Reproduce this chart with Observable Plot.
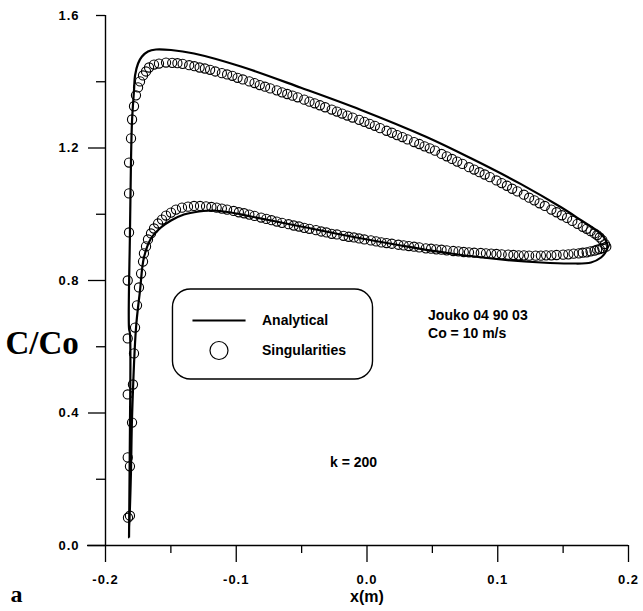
<!DOCTYPE html>
<html>
<head>
<meta charset="utf-8">
<script src="https://cdn.jsdelivr.net/npm/d3@7"></script>
<script src="https://cdn.jsdelivr.net/npm/@observablehq/plot@0.6"></script>
<style>
  html, body { margin: 0; padding: 0; background: #fff; }
  #chart svg { display: block; }
  #chart g[aria-label$="tick label"] text { letter-spacing: 1px; }
</style>
</head>
<body>
<div id="chart"></div>
<script>
// ---- Tick values ----
const xMajorTicks = [-0.2, -0.1, 0.0, 0.1, 0.2];
const xMinorTicks = [-0.15, -0.05, 0.05, 0.15];
const yLabelTicks = [0.0, 0.4, 0.8, 1.2, 1.6];
const yMajorTicks = [0.0, 0.4, 0.8, 1.2];
const yMinorTicks = [0.2, 0.6, 1.0, 1.4, 1.6];

// ---- Analytical solution (closed loop: trailing edge -> upper -> leading edge -> lower -> trailing edge) ----
const analyticX = [
  0.1843, 0.1813, 0.1751, 0.1637, 0.1484, 0.1178, 0.0795, 0.0451, -0.0046, -0.0505,
  -0.0964, -0.1323, -0.1499, -0.1614, -0.1675, -0.1721, -0.1751, -0.1774, -0.1782, -0.1797,
  -0.1805, -0.1813, -0.1820, -0.1813, -0.1813, -0.1820,
  -0.1805, -0.1797, -0.1767, -0.1736, -0.1706, -0.1652, -0.1576, -0.1499, -0.1400, -0.1285,
  -0.1178, -0.1040, -0.0887, -0.0505, -0.0122, 0.0260, 0.0642, 0.1025, 0.1331, 0.1560,
  0.1713, 0.1790, 0.1828, 0.1843
];
const analyticC = [
  0.9026, 0.9300, 0.9520, 0.9820, 1.0210, 1.0910, 1.1690, 1.2340, 1.3150, 1.3820,
  1.4460, 1.4853, 1.4958, 1.4974, 1.4913, 1.4762, 1.4551, 1.4189, 1.3736, 1.2830,
  1.1623, 0.9419, 0.6551, 0.6400, 0.3472, 0.0242,
  0.2264, 0.3864, 0.6551, 0.7698, 0.8694, 0.9268, 0.9600, 0.9811, 0.9992, 1.0083,
  1.0113, 1.0053, 0.9932, 0.9630, 0.9328, 0.9057, 0.8815, 0.8634, 0.8543, 0.8513,
  0.8543, 0.8694, 0.8875, 0.9026
];

// ---- Singularities method: upper surface points ----
const upperX = [
  -0.1828, -0.183, -0.183, -0.183, -0.183, -0.182, -0.182, -0.182, -0.1805, -0.1797,
  -0.1782, -0.1767, -0.1751, -0.1736, -0.1713, -0.169, -0.1667, -0.1629, -0.1591, -0.1537,
  -0.149, -0.145, -0.141, -0.136, -0.132, -0.128, -0.124, -0.120, -0.116, -0.111,
  -0.107, -0.103, -0.099, -0.095, -0.090, -0.086, -0.082, -0.078, -0.074, -0.069,
  -0.065, -0.061, -0.057, -0.053, -0.048, -0.044, -0.040, -0.036, -0.032, -0.027,
  -0.023, -0.019, -0.015, -0.011, -0.006, -0.002, 0.002, 0.006, 0.010, 0.015,
  0.019, 0.023, 0.027, 0.031, 0.036, 0.040, 0.044, 0.048, 0.052, 0.057,
  0.061, 0.065, 0.069, 0.073, 0.078, 0.082, 0.086, 0.090, 0.094, 0.099,
  0.103, 0.107, 0.111, 0.115, 0.120, 0.124, 0.128, 0.132, 0.136, 0.141,
  0.145, 0.149, 0.153, 0.157, 0.161, 0.165, 0.168, 0.171, 0.174, 0.176,
  0.178, 0.180, 0.182
];
const upperC = [
  0.084, 0.266, 0.456, 0.625, 0.800, 0.945, 1.063, 1.156, 1.229, 1.286,
  1.326, 1.359, 1.383, 1.401, 1.419, 1.431, 1.443, 1.452, 1.455, 1.458,
  1.457, 1.456, 1.454, 1.450, 1.447, 1.443, 1.440, 1.436, 1.431, 1.426,
  1.422, 1.418, 1.412, 1.407, 1.401, 1.396, 1.390, 1.385, 1.380, 1.374,
  1.368, 1.363, 1.358, 1.353, 1.346, 1.340, 1.335, 1.329, 1.323, 1.316,
  1.310, 1.304, 1.298, 1.292, 1.285, 1.279, 1.273, 1.267, 1.260, 1.252,
  1.246, 1.239, 1.233, 1.226, 1.218, 1.212, 1.205, 1.199, 1.192, 1.182,
  1.175, 1.167, 1.159, 1.152, 1.142, 1.135, 1.127, 1.120, 1.112, 1.102,
  1.094, 1.086, 1.077, 1.069, 1.059, 1.050, 1.042, 1.033, 1.025, 1.014,
  1.006, 0.997, 0.989, 0.980, 0.971, 0.962, 0.956, 0.949, 0.942, 0.937,
  0.930, 0.922, 0.910
];

// ---- Singularities method: lower surface points ----
const lowerX = [
  -0.1813, -0.1813, -0.1797, -0.179, -0.1782, -0.1774, -0.1759, -0.1744, -0.1728, -0.1713,
  -0.1706, -0.169, -0.1675, -0.1652, -0.1629, -0.1598, -0.1568, -0.1537, -0.1499, -0.1461,
  -0.1415, -0.1369, -0.1323, -0.1277, -0.1231,
  -0.119, -0.115, -0.111, -0.107, -0.102, -0.098, -0.094, -0.090, -0.086, -0.081,
  -0.077, -0.073, -0.069, -0.065, -0.060, -0.056, -0.052, -0.048, -0.044, -0.039,
  -0.035, -0.031, -0.027, -0.023, -0.018, -0.014, -0.010, -0.006, -0.002, 0.003,
  0.007, 0.011, 0.015, 0.019, 0.024, 0.028, 0.032, 0.036, 0.040, 0.045,
  0.049, 0.053, 0.057, 0.061, 0.066, 0.070, 0.074, 0.078, 0.082, 0.087,
  0.091, 0.095, 0.099, 0.103, 0.108, 0.112, 0.116, 0.120, 0.124, 0.129,
  0.133, 0.137, 0.141, 0.145, 0.150, 0.154, 0.158, 0.162, 0.165, 0.168,
  0.171, 0.174, 0.176, 0.178, 0.180, 0.183
];
const lowerC = [
  0.090, 0.239, 0.371, 0.486, 0.580, 0.658, 0.725, 0.779, 0.821, 0.857,
  0.882, 0.903, 0.924, 0.942, 0.957, 0.972, 0.984, 0.996, 1.005, 1.014,
  1.020, 1.023, 1.025, 1.025, 1.024,
  1.022, 1.020, 1.017, 1.014, 1.010, 1.006, 1.003, 0.999, 0.995, 0.990,
  0.986, 0.982, 0.978, 0.974, 0.970, 0.966, 0.963, 0.959, 0.956, 0.952,
  0.948, 0.945, 0.941, 0.939, 0.935, 0.932, 0.930, 0.927, 0.924, 0.921,
  0.918, 0.915, 0.913, 0.911, 0.908, 0.906, 0.904, 0.902, 0.900, 0.897,
  0.896, 0.894, 0.893, 0.891, 0.889, 0.888, 0.886, 0.885, 0.884, 0.883,
  0.882, 0.881, 0.880, 0.879, 0.878, 0.877, 0.876, 0.876, 0.875, 0.875,
  0.875, 0.876, 0.876, 0.877, 0.878, 0.879, 0.881, 0.882, 0.884, 0.885,
  0.888, 0.890, 0.893, 0.895, 0.898, 0.902
];

// ---- Texts ----
const legendLabels = ["Analytical", "Singularities"];
const infoLines = ["Jouko 04 90 03", "Co = 10 m/s"];
const kLabel = "k = 200";
const yTitle = "C/Co";
const xTitle = "x(m)";
const panelLetter = "a";

// ---- Build tables ----
const analytic = analyticX.map((x, i) => ({x, c: analyticC[i]}));
const upper = upperX.map((x, i) => ({x, c: upperC[i]}));
const lower = lowerX.map((x, i) => ({x, c: lowerC[i]}));

// Legend / annotation placement (data coordinates)
const legendBox = [{x1: -0.1484, x2: 0.0046, y1: 0.5011, y2: 0.7728}];
const legendLine = [{x1: -0.1331, x2: -0.0925, y: 0.6792}];
const legendDot = [{x: -0.1132, y: 0.5887}];
const legendText = [
  {x: -0.0803, y: 0.6792, t: legendLabels[0]},
  {x: -0.0803, y: 0.5887, t: legendLabels[1]}
];
const infoText = [
  {x: 0.0467, y: 0.694, t: infoLines[0]},
  {x: 0.0467, y: 0.640, t: infoLines[1]}
];
const kText = [{x: -0.0283, y: 0.2506, t: kLabel}];

const fmt = d => d.toFixed(1);
const blank = () => "";

const chart = Plot.plot({
  width: 643,
  height: 611,
  marginTop: 15,
  marginBottom: 66,
  marginLeft: 105,
  marginRight: 15,
  x: {domain: [-0.2, 0.2], axis: null},
  y: {domain: [0, 1.6], axis: null},
  style: {
    fontFamily: "'Liberation Sans', Arial, sans-serif",
    fontWeight: "bold",
    fontSize: "13px",
    background: "white",
    color: "black"
  },
  marks: [
    // axis lines
    Plot.ruleY([0], {insetLeft: -18, strokeWidth: 1.4}),
    Plot.ruleX([-0.2], {strokeWidth: 1.4}),
    // x ticks
    Plot.axisX(xMajorTicks, {tickSize: 17, tickPadding: 12, tickFormat: fmt, strokeWidth: 1.3, fontWeight: "bold", fontSize: 13}),
    Plot.axisX(xMinorTicks, {tickSize: 8, tickFormat: blank, strokeWidth: 1.3}),
    // y ticks
    Plot.axisY(yLabelTicks, {tickSize: 0, tickPadding: 26, tickFormat: fmt, fontWeight: "bold", fontSize: 13}),
    Plot.axisY(yMajorTicks, {tickSize: 17, tickFormat: blank, strokeWidth: 1.3}),
    Plot.axisY(yMinorTicks, {tickSize: 9, tickFormat: blank, strokeWidth: 1.3}),
    // data
    Plot.line(analytic, {x: "x", y: "c", curve: "catmull-rom", stroke: "black", strokeWidth: 2.2}),
    Plot.dot(upper, {x: "x", y: "c", r: 4.6, stroke: "black", strokeWidth: 1.1, fill: "none"}),
    Plot.dot(lower, {x: "x", y: "c", r: 4.6, stroke: "black", strokeWidth: 1.1, fill: "none"}),
    // legend
    Plot.rect(legendBox, {x1: "x1", x2: "x2", y1: "y1", y2: "y2", rx: 18, fill: "none", stroke: "black", strokeWidth: 1.4}),
    Plot.ruleY(legendLine, {y: "y", x1: "x1", x2: "x2", stroke: "black", strokeWidth: 2.2}),
    Plot.dot(legendDot, {x: "x", y: "y", r: 9, stroke: "black", strokeWidth: 1.2, fill: "none"}),
    Plot.text(legendText, {x: "x", y: "y", text: "t", textAnchor: "start", fontSize: 14, fontWeight: "bold"}),
    // annotations
    Plot.text(infoText, {x: "x", y: "y", text: "t", textAnchor: "start", fontSize: 14, fontWeight: "bold"}),
    Plot.text(kText, {x: "x", y: "y", text: "t", textAnchor: "start", fontSize: 14, fontWeight: "bold"}),
    // titles
    Plot.text([yTitle], {frameAnchor: "left", dx: -100, dy: 63, textAnchor: "start",
      fontFamily: "'Liberation Serif', 'Times New Roman', serif", fontSize: 33, fontWeight: "bold"}),
    Plot.text([xTitle], {frameAnchor: "bottom", dy: 56, fontSize: 16, fontWeight: "bold"}),
    Plot.text([panelLetter], {frameAnchor: "bottom-left", dx: -95, dy: 56, textAnchor: "start",
      fontFamily: "'Liberation Serif', 'Times New Roman', serif", fontSize: 24, fontWeight: "bold"})
  ]
});

document.getElementById("chart").appendChild(chart);
</script>
</body>
</html>
